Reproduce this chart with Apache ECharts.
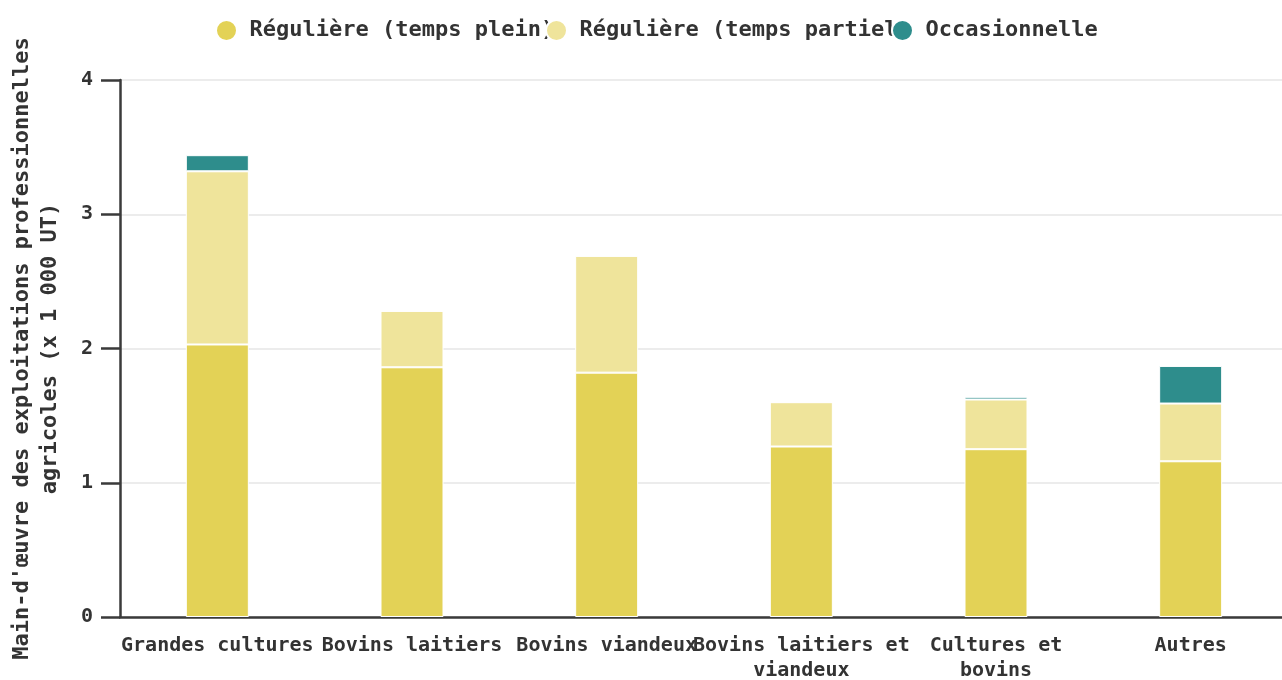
<!DOCTYPE html>
<html>
<head>
<meta charset="utf-8">
<script src="https://cdn.jsdelivr.net/npm/echarts@6/dist/echarts.min.js"></script>
<style>
  html, body { margin: 0; padding: 0; background: #fff; }
  #chart { width: 1282px; height: 680px; }
</style>
</head>
<body>
<div id="chart"></div>
<script>
// catégories d'exploitation
var categories = ["Grandes cultures", "Bovins laitiers", "Bovins viandeux", "Bovins laitiers et viandeux", "Cultures et bovins", "Autres"];
// libellés coupés comme dans l'original
var wrappedLabels = {
    "Bovins laitiers et viandeux": "Bovins laitiers et\nviandeux",
    "Cultures et bovins": "Cultures et\nbovins"
};
var seriesNames = ["Régulière (temps plein)", "Régulière (temps partiel)", "Occasionnelle"];
// valeurs en milliers d'UT
var tempsPlein = [2.03, 1.86, 1.82, 1.27, 1.25, 1.16];
var tempsPartiel = [1.29, 0.42, 0.87, 0.33, 0.37, 0.43];
var occasionnelle = [0.12, 0, 0, 0, 0.02, 0.28];
var yTicks = [0, 1, 2, 3, 4];

var font = "DejaVu Sans Mono";
var colors = ["#e3d256", "#efe49b", "#2e8d8c"];
// position gauche de chaque entrée de légende (elles se chevauchent dans l'original)
var legendLefts = [210, 540, 886];

var myChart = echarts.init(document.getElementById('chart'));

function makeSeries(name, data, color) {
    return {
        name: name,
        type: 'bar',
        stack: 'total',
        barWidth: 63,
        data: data,
        itemStyle: { color: color, borderColor: '#fff', borderWidth: 1 }
    };
}

function makeLegend(i) {
    return {
        left: legendLefts[i],
        top: 14,
        itemWidth: 36,
        itemHeight: 21,
        icon: 'circle',
        textStyle: { fontFamily: font, fontWeight: 'bold', fontSize: 22, color: '#333' },
        data: [seriesNames[i]]
    };
}

var option = {
    animation: false,
    color: colors,
    legend: [makeLegend(0), makeLegend(1), makeLegend(2)],
    grid: { left: 120, right: -6, top: 80, bottom: 63, containLabel: false, outerBoundsMode: 'none' },
    xAxis: {
        type: 'category',
        data: categories,
        axisLine: { lineStyle: { color: '#3a3a3a', width: 2.5 } },
        axisTick: { length: 18, lineStyle: { color: '#3a3a3a', width: 2.5 } },
        axisLabel: {
            interval: 0,
            margin: 16,
            fontFamily: font,
            fontWeight: 'bold',
            fontSize: 20,
            lineHeight: 25,
            color: '#333',
            formatter: function (v) { return wrappedLabels[v] || v; }
        }
    },
    yAxis: {
        type: 'value',
        min: yTicks[0],
        max: yTicks[yTicks.length - 1],
        interval: 1,
        name: "Main-d'œuvre des exploitations professionnelles\nagricoles (x 1 000 UT)",
        nameLocation: 'middle',
        nameGap: 56,
        nameTextStyle: { fontFamily: font, fontWeight: 'bold', fontSize: 22, lineHeight: 28, color: '#333' },
        axisLine: { show: true, lineStyle: { color: '#3a3a3a', width: 2.5 } },
        axisTick: { show: true, length: 19, lineStyle: { color: '#3a3a3a', width: 2.5 } },
        axisLabel: { margin: 27, fontFamily: font, fontWeight: 'bold', fontSize: 20, color: '#333' },
        splitLine: { lineStyle: { color: '#e6e6e6', width: 1.5 } }
    },
    series: [
        makeSeries(seriesNames[0], tempsPlein, colors[0]),
        makeSeries(seriesNames[1], tempsPartiel, colors[1]),
        makeSeries(seriesNames[2], occasionnelle, colors[2])
    ]
};

myChart.setOption(option);
</script>
</body>
</html>
